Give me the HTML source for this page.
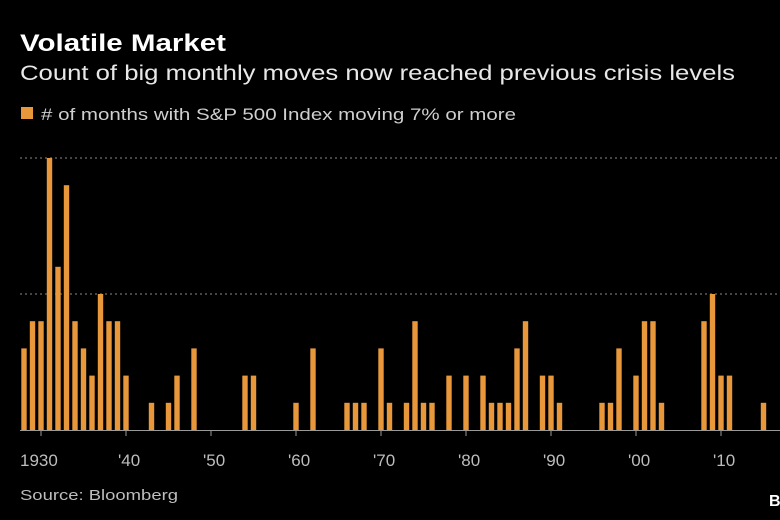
<!DOCTYPE html>
<html><head><meta charset="utf-8"><style>
html,body{margin:0;padding:0;background:#000;}
svg{display:block;font-family:"Liberation Sans",sans-serif;}
</style></head><body>
<svg id="chart" width="780" height="520" viewBox="0 0 780 520">
<rect width="780" height="520" fill="#000"/>
<text x="20" y="51" fill="#fff" font-size="24" font-weight="bold" textLength="206" lengthAdjust="spacingAndGlyphs">Volatile Market</text>
<text x="20" y="80" fill="#e8e8e8" font-size="21" textLength="715" lengthAdjust="spacingAndGlyphs">Count of big monthly moves now reached previous crisis levels</text>
<rect x="21" y="107" width="12" height="12" fill="#e8973a"/>
<text x="41" y="120" fill="#cfcfcf" font-size="17" textLength="475" lengthAdjust="spacingAndGlyphs"># of months with S&amp;P 500 Index moving 7% or more</text>
<g id="grid"></g>
<g id="bars"></g>
<g id="axis"></g>
<text x="20" y="500" fill="#bdbdbd" font-size="15" textLength="158" lengthAdjust="spacingAndGlyphs">Source: Bloomberg</text>
<text x="769" y="506" fill="#fff" font-size="16" font-weight="bold">B</text>
</svg>
<script>
const years = [1928,1929,1930,1931,1932,1933,1934,1935,1936,1937,1938,1939,1940,1941,1942,1943,1944,1945,1946,1947,1948,1949,1950,1951,1952,1953,1954,1955,1956,1957,1958,1959,1960,1961,1962,1963,1964,1965,1966,1967,1968,1969,1970,1971,1972,1973,1974,1975,1976,1977,1978,1979,1980,1981,1982,1983,1984,1985,1986,1987,1988,1989,1990,1991,1992,1993,1994,1995,1996,1997,1998,1999,2000,2001,2002,2003,2004,2005,2006,2007,2008,2009,2010,2011,2012,2013,2014,2015,2016,2017];
const counts = [3,4,4,10,6,9,4,3,2,5,4,4,2,0,0,1,0,1,2,0,3,0,0,0,0,0,2,2,0,0,0,0,1,0,3,0,0,0,1,1,1,0,3,1,0,1,4,1,1,0,2,0,2,0,2,1,1,1,3,4,0,2,2,1,0,0,0,0,1,1,3,0,2,4,4,1,0,0,0,0,4,5,2,2,0,0,0,1,0,0];
const gridValues = [5,10];
const tickYears = [1930,1940,1950,1960,1970,1980,1990,2000,2010];
const tickLabels = ["1930","'40","'50","'60","'70","'80","'90","'00","'10"];
const NS="http://www.w3.org/2000/svg";
const x = y => 41 + (y-1930)*8.5;
const yv = v => 430 - v*27.2;
function mk(tag, attrs, parent){const e=document.createElementNS(NS,tag);for(const k in attrs)e.setAttribute(k,attrs[k]);document.getElementById(parent).appendChild(e);return e;}
gridValues.forEach(v=>{
  const l=mk('line',{x1:20,x2:780,y1:yv(v),y2:yv(v),stroke:'#8a8a8a','stroke-width':1,'stroke-dasharray':'2,3'},'grid');
  
  
});
years.forEach((yr,i)=>{
  if(counts[i]<=0) return;
  const r=mk('rect',{x:x(yr)-2.7,y:yv(counts[i]),width:5.4,height:430-yv(counts[i]),fill:'#e8973a'},'bars');
  
  
});
const base=mk('line',{x1:20,x2:780,y1:430.5,y2:430.5,stroke:'#9a9a9a','stroke-width':1},'axis');


tickYears.forEach((yr,i)=>{
  const t=mk('line',{x1:x(yr),x2:x(yr),y1:431,y2:436,stroke:'#9a9a9a','stroke-width':1},'axis');
  
  
  const lb=mk('text',{x:i===0?20:x(yr)-8,y:466,fill:'#bdbdbd','font-size':17},'axis');
  lb.textContent=tickLabels[i];
  
  
});
</script>
</body></html>
